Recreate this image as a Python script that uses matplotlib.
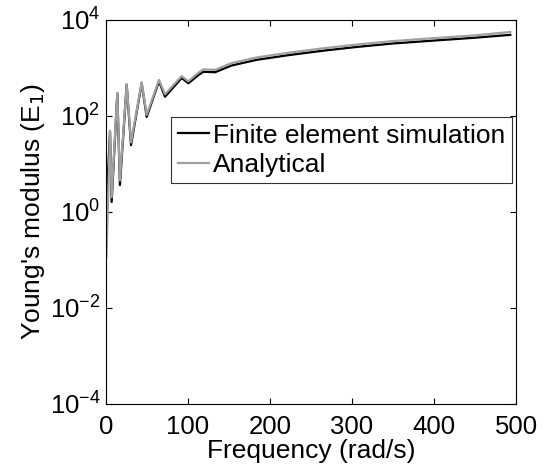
import matplotlib
matplotlib.use("Agg")
import matplotlib.pyplot as plt
from matplotlib.ticker import FixedLocator, NullLocator

plt.rcParams["font.family"] = ["Liberation Sans", "DejaVu Sans"]

# Finite element simulation (black)
fe_freq = [1, 4.9, 6.9, 13.8, 17, 25.2, 30.5, 43.5, 49.6, 64.6, 72, 92.3,
           100.4, 112.6, 118.7, 133, 153, 184, 224, 265, 307, 350, 399,
           450, 493]
fe_modulus = [2.0, 47, 1.6, 295, 3.6, 447, 24.5, 479, 95, 525, 251, 617,
              479, 708, 832, 813, 1122, 1479, 1862, 2291, 2754, 3236, 3715,
              4266, 4898]

# Analytical (grey)
an_freq = [0.5, 4.9, 6.9, 13.8, 17, 25.2, 30.5, 43.5, 49.6, 64.6, 72, 92.3,
           100.4, 112.6, 118.7, 133, 153, 184, 224, 265, 307, 350, 399,
           450, 493]
an_modulus = [0.11, 49, 2.0, 302, 4.5, 457, 28, 501, 105, 562, 282, 676,
              525, 794, 933, 912, 1259, 1660, 2089, 2570, 3090, 3631, 4169,
              4786, 5623]

fig = plt.figure(figsize=(5.45, 4.66), dpi=100)
ax = fig.add_axes([0.1945, 0.1341, 0.7523, 0.8230])

ax.plot(fe_freq, fe_modulus, color="black", lw=1.6,
        label="Finite element simulation")
ax.plot(an_freq, an_modulus, color="#a0a0a0", lw=1.6, label="Analytical")

ax.set_yscale("log")
ax.set_xlim(0, 500)
ax.set_ylim(1e-4, 1e4)
ax.yaxis.set_major_locator(FixedLocator([1e-4, 1e-2, 1e0, 1e2, 1e4]))
ax.yaxis.set_minor_locator(NullLocator())
ax.set_xticks([0, 100, 200, 300, 400, 500])

ax.tick_params(direction="in", top=True, right=True, labelsize=18.5,
               length=4, width=0.8)
ax.tick_params(axis="x", pad=8)
ax.tick_params(axis="y", pad=4)
for s in ax.spines.values():
    s.set_linewidth(0.8)

ax.set_xlabel("Frequency (rad/s)", fontsize=19, labelpad=0)
ax.set_ylabel("Young's modulus (E$_1$)", fontsize=19, labelpad=2)

leg = ax.legend(loc="upper left", bbox_to_anchor=(0.1585, 0.747),
                fontsize=19, frameon=True, fancybox=False,
                edgecolor="black", handlelength=1.2, handletextpad=0.15,
                borderpad=0.25, labelspacing=0.2, borderaxespad=0)
leg.get_frame().set_linewidth(0.8)

fig.savefig("out.png", dpi=100)
